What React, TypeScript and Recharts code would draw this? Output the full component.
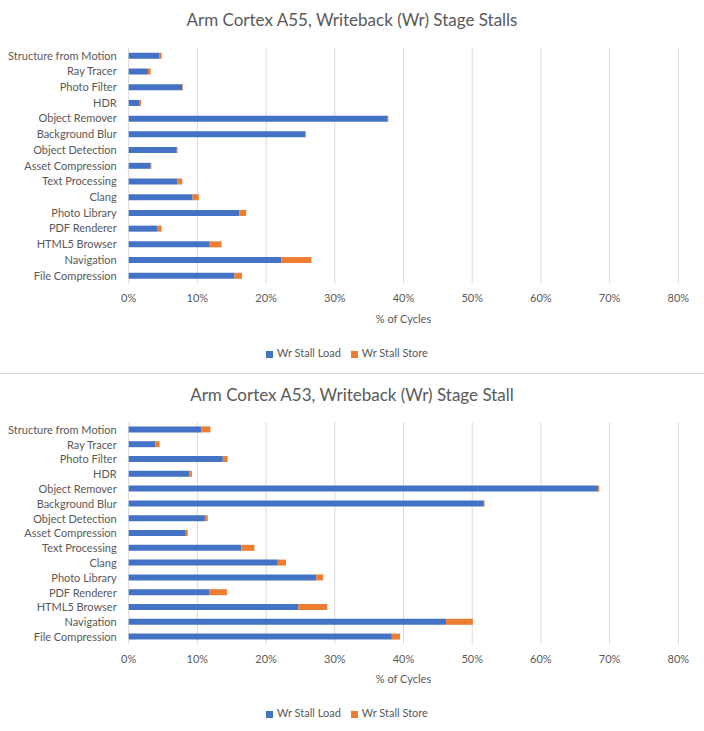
import { BarChart, Bar, XAxis, YAxis, CartesianGrid, Legend } from "recharts";

const categories = [
  "Structure from Motion",
  "Ray Tracer",
  "Photo Filter",
  "HDR",
  "Object Remover",
  "Background Blur",
  "Object Detection",
  "Asset Compression",
  "Text Processing",
  "Clang",
  "Photo Library",
  "PDF Renderer",
  "HTML5 Browser",
  "Navigation",
  "File Compression",
];

// % of cycles
const a55Load = [4.5, 2.8, 7.8, 1.6, 37.7, 25.7, 7.0, 3.2, 7.1, 9.3, 16.1, 4.2, 11.8, 22.2, 15.4];
const a55Store = [0.3, 0.4, 0.1, 0.2, 0.1, 0.1, 0.1, 0.1, 0.7, 0.9, 1.0, 0.6, 1.7, 4.4, 1.1];

const a53Load = [10.6, 3.9, 13.7, 8.8, 68.3, 51.7, 11.1, 8.3, 16.4, 21.7, 27.3, 11.7, 24.7, 46.2, 38.3];
const a53Store = [1.3, 0.6, 0.7, 0.4, 0.2, 0.1, 0.4, 0.3, 1.9, 1.2, 1.0, 2.6, 4.2, 3.9, 1.2];

const xTicks = [0, 10, 20, 30, 40, 50, 60, 70, 80];

const FONT = "Lato, 'Liberation Sans', sans-serif";
const GREY = "#595959";

function buildRows(load: number[], store: number[]) {
  return categories.map((name, i) => ({ name, load: load[i], store: store[i] }));
}

// plain category label, no wrapping
function CategoryTick(props: any) {
  const { x, y, payload } = props;
  return (
    <text x={x} y={y} dy="0.355em" textAnchor="end" fill={GREY} fontSize={11} fontFamily={FONT}>
      {payload.value}
    </text>
  );
}

interface PanelProps {
  title: string;
  load: number[];
  store: number[];
  height: number;
  top: number;
  xHeight: number;
  bottom: number;
  labelOffset: number;
  titleTop: number;
}

function StallPanel({ title, load, store, height, top, xHeight, bottom, labelOffset, titleTop }: PanelProps) {
  const rows = buildRows(load, store);
  return (
    <div style={{ position: "relative", width: 704, height, fontFamily: FONT }}>
      <div
        style={{
          position: "absolute",
          top: titleTop,
          left: 0,
          width: 704,
          textAlign: "center",
          fontSize: 17,
          color: GREY,
          lineHeight: "20px",
        }}
      >
        {title}
      </div>
      <BarChart
        width={704}
        height={height}
        data={rows}
        layout="vertical"
        margin={{ top, right: 25.7, bottom, left: 0 }}
        barSize={6}
      >
        <CartesianGrid horizontal={false} stroke="#d9d9d9" />
        <XAxis
          type="number"
          domain={[0, 80]}
          ticks={xTicks}
          tickFormatter={(v) => `${v}%`}
          axisLine={false}
          tickLine={false}
          tickSize={0}
          tickMargin={11}
          height={xHeight}
          tick={{ fill: GREY, fontSize: 11, fontFamily: FONT }}
          label={{
            value: "% of Cycles",
            position: "insideBottom",
            offset: labelOffset,
            fill: GREY,
            fontSize: 11,
            fontFamily: FONT,
          }}
        />
        <YAxis
          type="category"
          dataKey="name"
          width={128.7}
          axisLine={false}
          tickLine={false}
          tickSize={0}
          tickMargin={12}
          interval={0}
          tick={<CategoryTick />}
        />
        <Legend
          verticalAlign="bottom"
          height={16}
          iconType="square"
          iconSize={7}
          wrapperStyle={{ left: 0, width: 704, fontSize: 11, lineHeight: "16px", color: GREY, fontFamily: FONT }}
          formatter={(value) => <span style={{ color: GREY }}>{value}</span>}
        />
        <Bar dataKey="load" name="Wr Stall Load" stackId="s" fill="#4472c4" isAnimationActive={false} />
        <Bar dataKey="store" name="Wr Stall Store" stackId="s" fill="#ed7d31" isAnimationActive={false} />
      </BarChart>
    </div>
  );
}

export default function App() {
  return (
    <div style={{ position: "absolute", top: 0, left: 0, width: 704, height: 731, background: "#fff" }}>
      <div style={{ borderBottom: "1px solid #d9d9d9" }}>
        <StallPanel
          title="Arm Cortex A55, Writeback (Wr) Stage Stalls"
          load={a55Load}
          store={a55Store}
          height={373}
          top={47.8}
          xHeight={61.5}
          bottom={12}
          labelOffset={22}
          titleTop={10}
        />
      </div>
      <StallPanel
        title="Arm Cortex A53, Writeback (Wr) Stage Stall"
        load={a53Load}
        store={a53Store}
        height={357}
        top={48.4}
        xHeight={60.6}
        bottom={10}
        labelOffset={22}
        titleTop={11}
      />
    </div>
  );
}
